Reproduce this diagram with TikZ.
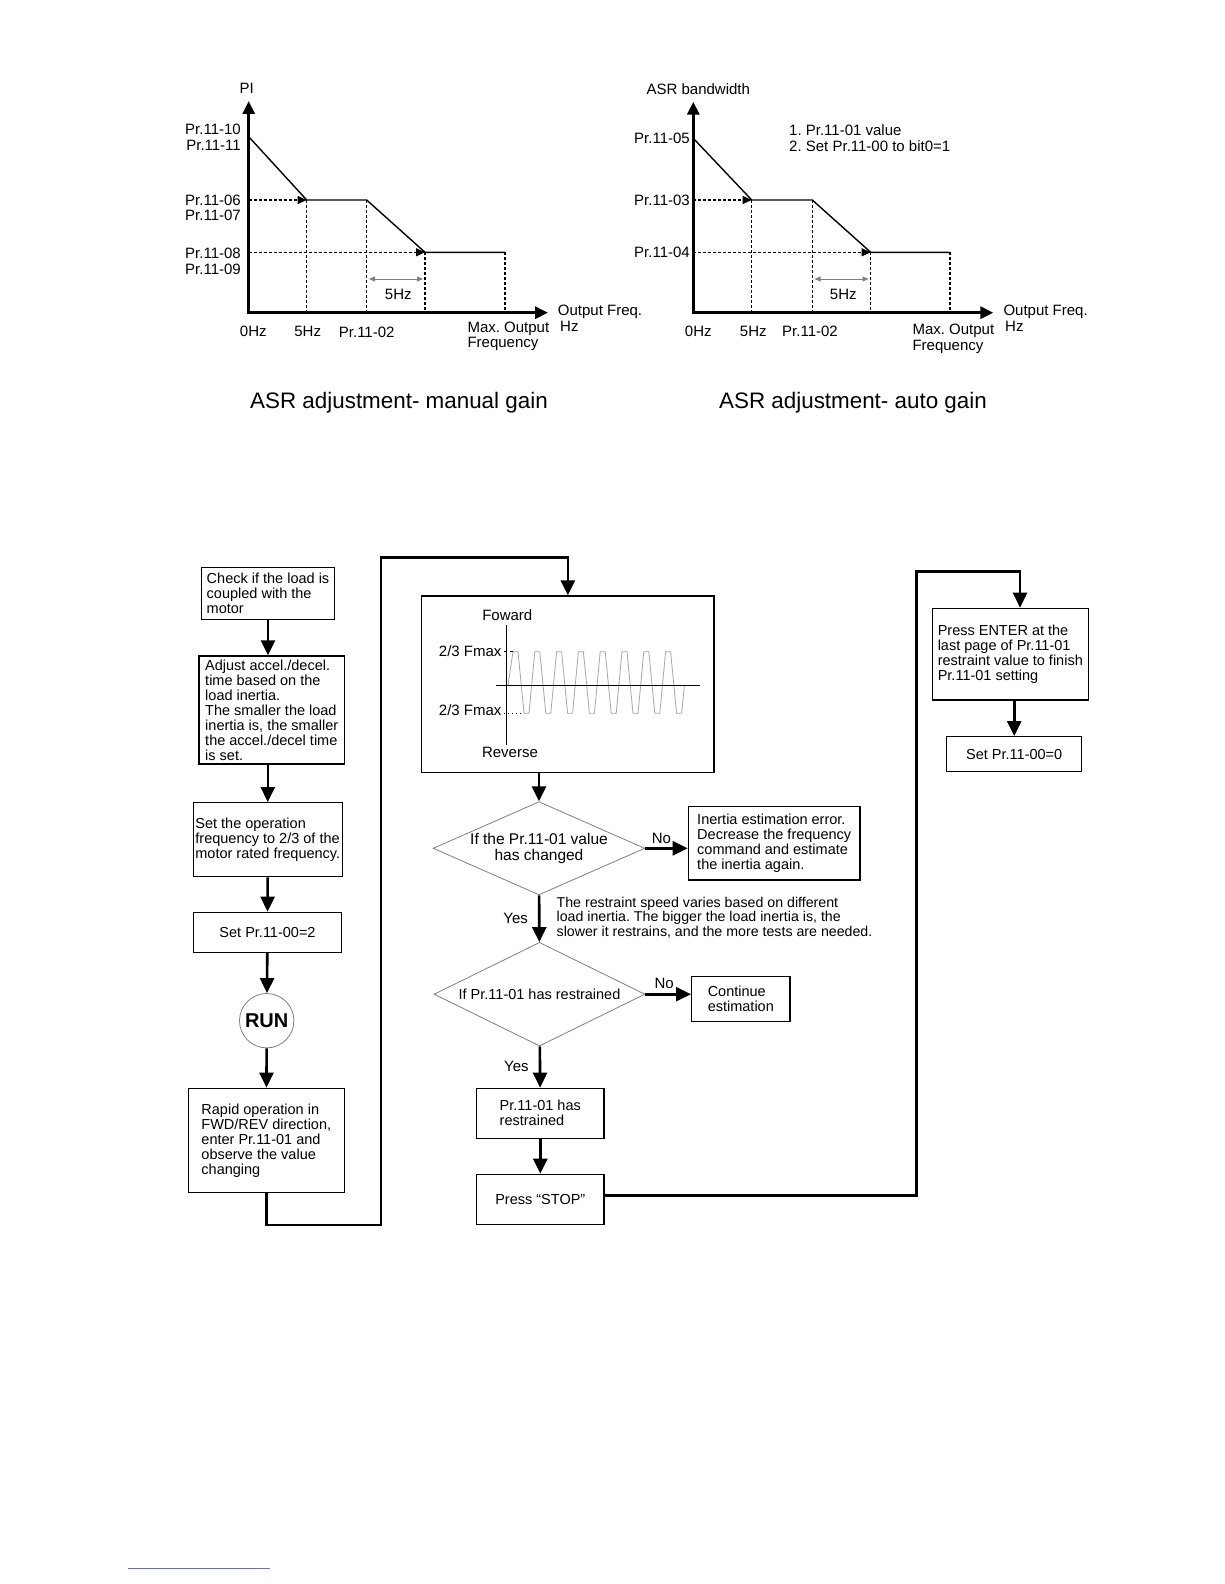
\documentclass[tikz,border=0pt]{standalone}
\usepackage{fontspec}
\setmainfont{Liberation Sans}
\usetikzlibrary{positioning,shapes.geometric,arrows.meta}
\frenchspacing

\begin{document}
\begin{tikzpicture}[x=1pt,y=-1pt,
  lbl/.style={inner sep=0pt,text height=10pt,text depth=0pt,font=\fontsize{15}{16}\selectfont},
  ttl/.style={inner sep=0pt,font=\fontsize{22.4}{24}\selectfont},
  axis/.style={line width=3pt,{Triangle[length=13pt,width=12pt]}-{Triangle[length=13pt,width=12pt]}},
  curve/.style={line width=1.4pt},
  guide/.style={line width=1.1pt,dash pattern=on 3pt off 2pt},
  guidearrow/.style={guide,-{Triangle[length=9pt,width=8pt]}},
  span/.style={gray,line width=0.9pt,{Triangle[length=6pt,width=5pt]}-{Triangle[length=6pt,width=5pt]}},
  box/.style={draw,line width=1.3pt,inner sep=0pt,align=left,font=\fontsize{14.5}{15}\selectfont},
  test/.style={draw=gray,line width=0.8pt,diamond,inner sep=0pt,align=center,font=\fontsize{14.5}{16}\selectfont},
  flow/.style={line width=2.6pt,-{Triangle[length=15pt,width=14pt]}},
  answer/.style={lbl,midway}]

  \useasboundingbox[fill=white] (0,0) rectangle (1224,1584);

  % manual gain
  \coordinate (O1) at (248.7,312.7);
  \coordinate (Y1) at (248.7,101);
  \coordinate (X1) at (548,312.7);
  \coordinate (A1) at (248.7,136.7);
  \coordinate (B1) at (306.7,200);
  \coordinate (C1) at (366.7,200);
  \coordinate (D1) at (425,252.3);
  \coordinate (E1) at (505,252.3);

  \foreach \p in {B1,C1,D1,E1} \draw[guide] (\p) -- (\p |- O1);
  \draw[guidearrow] (O1 |- B1) -- (B1);
  \draw[guidearrow] (O1 |- D1) -- (D1);
  \draw[span] (369,279) -- (423,279);
  \draw[curve] (A1) -- (B1) -- (C1) -- (D1) -- (E1);
  \draw[axis] (Y1) -- (O1) -- (X1);

  \node[lbl] (pi) at (246.7,88.3) {PI};
  \node[lbl,anchor=east] (m10) at (241,130) {Pr.11-10};
  \node[lbl,anchor=east] (m11) at (241,145.3) {Pr.11-11};
  \node[lbl,anchor=east] (m06) at (241,200) {Pr.11-06};
  \node[lbl,anchor=east] (m07) at (241,215.3) {Pr.11-07};
  \node[lbl,anchor=east] (m08) at (241,253.3) {Pr.11-08};
  \node[lbl,anchor=east] (m09) at (241,269) {Pr.11-09};
  \node[lbl] (mhz) at (398.3,294) {5Hz};
  \node[lbl] (m0) at (253.3,331.7) {0Hz};
  \node[lbl] (m5) at (307.7,331.7) {5Hz};
  \node[lbl] (m02) at (366.7,332.3) {Pr.11-02};
  \node[lbl,anchor=west] (mmax) at (467.3,327.7) {Max. Output};
  \node[lbl,anchor=west] (mfreq) at (467.3,342.7) {Frequency};
  \node[lbl,anchor=west] (mout) at (557.7,310.7) {Output Freq.};
  \node[lbl,anchor=west] (munit) at (560,326.7) {Hz};
  \node[ttl] (mtitle) at (399,403) {ASR adjustment- manual gain};

  % auto gain
  \coordinate (O2) at (693.3,312.7);
  \coordinate (Y2) at (693.3,101.7);
  \coordinate (X2) at (993.3,312.7);
  \coordinate (A2) at (693.3,138.3);
  \coordinate (B2) at (751.7,200);
  \coordinate (C2) at (812.3,200);
  \coordinate (D2) at (870.7,252.3);
  \coordinate (E2) at (950,252.3);

  \foreach \p in {B2,C2,D2,E2} \draw[guide] (\p) -- (\p |- O2);
  \draw[guidearrow] (O2 |- B2) -- (B2);
  \draw[guidearrow] (O2 |- D2) -- (D2);
  \draw[span] (814.5,279) -- (868.5,279);
  \draw[curve] (A2) -- (B2) -- (C2) -- (D2) -- (E2);
  \draw[axis] (Y2) -- (O2) -- (X2);

  \node[lbl] (bw) at (698.3,90) {ASR bandwidth};
  \node[lbl,anchor=west] (step1) at (789,130.7) {1. Pr.11-01 value};
  \node[lbl,anchor=west] (step2) at (789,146) {2. Set Pr.11-00 to bit0=1};
  \node[lbl,anchor=east] (a05) at (690,138.3) {Pr.11-05};
  \node[lbl,anchor=east] (a03) at (690,200) {Pr.11-03};
  \node[lbl,anchor=east] (a04) at (690,252.7) {Pr.11-04};
  \node[lbl] (ahz) at (843.3,294.3) {5Hz};
  \node[lbl] (a0) at (698.3,331.7) {0Hz};
  \node[lbl] (a5) at (753.3,331.7) {5Hz};
  \node[lbl] (a02) at (810,331.7) {Pr.11-02};
  \node[lbl,anchor=west] (amax) at (912.3,329.3) {Max. Output};
  \node[lbl,anchor=west] (afreq) at (912.3,345) {Frequency};
  \node[lbl,anchor=west] (aout) at (1003.3,310.7) {Output Freq.};
  \node[lbl,anchor=west] (aunit) at (1005,326.7) {Hz};
  \node[ttl] (atitle) at (853,403) {ASR adjustment- auto gain};

  % flowchart, left column
  \node[box,minimum width=132.6pt,minimum height=52pt] (check) at (268,593.3)
    {Check if the load is\\coupled with the\\motor};
  \node[box,minimum width=145.3pt,minimum height=108pt] (adjust) at (271.7,710)
    {Adjust accel./decel.\\time based on the\\load inertia.\\The smaller the load\\inertia is, the smaller\\the accel./decel time\\is set.};
  \node[box,minimum width=149pt,minimum height=74pt] (setfreq) at (267.8,839.7)
    {Set the operation\\frequency to 2/3 of the\\motor rated frequency.};
  \node[box,minimum width=148.4pt,minimum height=40pt] (setmode) at (267.5,932.3) {Set Pr.11-00=2};
  \node[circle,draw=gray,line width=0.8pt,minimum size=54.4pt,inner sep=0pt,
    font=\bfseries\fontsize{20}{20}\selectfont] (run) at (266.7,1020.7) {RUN};
  \node[box,minimum width=156pt,minimum height=104pt] (rapid) at (266.3,1140.3)
    {Rapid operation in\\FWD/REV direction,\\enter Pr.11-01 and\\observe the value\\changing};

  % flowchart, middle column
  \node[box,minimum width=292.3pt,minimum height=176.3pt] (plot) at (567.85,684.15) {};
  \draw[gray!70,line width=0.8pt] (508,685)
    \foreach \k in {0,...,7} {
      -- ({513+21.8*\k},651.7) -- ({518+21.8*\k},651.7)
      -- ({524+21.8*\k},713.3) -- ({529+21.8*\k},713.3) }
    -- (684.5,685);
  \draw[line width=0.9pt] (506.7,625) -- (506.7,745);
  \draw[line width=0.9pt] (496,685.7) -- (700,685.7);
  \draw[line width=0.6pt,dash pattern=on 3pt off 3pt] (504,651.7) -- (513,651.7);
  \draw[line width=0.6pt,dash pattern=on 1pt off 3pt] (504,713) -- (523,713);
  \node[lbl] (fwd) at (507.3,615) {Foward};
  \node[lbl] (rev) at (510,752.3) {Reverse};
  \node[lbl,anchor=east] (fmaxup) at (501.7,651) {2/3 Fmax};
  \node[lbl,anchor=east] (fmaxdn) at (501.7,710.7) {2/3 Fmax};

  \node[test,aspect=2.27,minimum width=211.7pt,minimum height=93.3pt,
    font=\fontsize{15.5}{16}\selectfont] (changed) at (539,848.3)
    {If the Pr.11-01 value\\has changed};
  \node[box,minimum width=171.7pt,minimum height=73.3pt] (err) at (774.2,843.3)
    {Inertia estimation error.\\Decrease the frequency\\command and estimate\\the inertia again.};
  \node[box,draw=none,anchor=west,font=\fontsize{14.2}{14.5}\selectfont] (hint) at (556,917.7)
    {The restraint speed varies based on different\\load inertia. The bigger the load inertia is, the\\slower it restrains, and the more tests are needed.};
  \node[test,aspect=2.03,minimum width=211pt,minimum height=103.7pt] (restrained) at (539.5,994.2)
    {If Pr.11-01 has restrained};
  \node[box,minimum width=98.3pt,minimum height=45pt] (cont) at (740.8,999.2) {Continue\\estimation};
  \node[box,minimum width=127.3pt,minimum height=50pt] (rest) at (540.3,1113.3) {Pr.11-01 has\\restrained};
  \node[box,minimum width=127.3pt,minimum height=50pt,align=center] (stop) at (540.3,1199.3) {Press “STOP”};

  % flowchart, right column
  \node[box,minimum width=156pt,minimum height=91.7pt] (enter) at (1010.3,654.2)
    {Press ENTER at the\\last page of Pr.11-01\\restraint value to finish\\Pr.11-01 setting};
  \node[box,minimum width=135pt,minimum height=35pt,align=center] (set0) at (1014.2,754.2) {Set Pr.11-00=0};

  \coordinate (j1) at (381,1225);
  \coordinate (j2) at (381,557.5);
  \coordinate (j3) at (916.7,571.7);
  \coordinate (j4) at (1020,571.7);

  \draw[flow] (check) -- (check |- adjust.north);
  \draw[flow] (adjust.south -| setfreq) -- (setfreq);
  \draw[flow] (setfreq) -- (setmode);
  \draw[flow] (setmode) -- (run);
  \draw[flow] (run) -- (rapid);
  \draw[flow] (rapid.south) |- (j1) -- (j2) -| (plot.north);
  \draw[flow] (plot.south -| changed) -- (changed);
  \draw[flow] (changed.east) -- (changed.east -| err.west)
    node[answer,above=4pt,xshift=-5pt] (no1) {No};
  \draw[flow] (changed) -- (restrained)
    node[answer,left=10pt] (yes1) {Yes};
  \draw[flow] (restrained.east) -- (restrained.east -| cont.west)
    node[answer,above=4pt,xshift=-4pt] (no2) {No};
  \draw[flow] (restrained) -- (rest)
    node[answer,left=10pt] (yes2) {Yes};
  \draw[flow] (rest) -- (stop);
  \draw[flow] ([yshift=4pt]stop.east) -| (j3) -- (j4) -- (j4 |- enter.north);
  \draw[flow] (set0 |- enter.south) -- (set0);

  \draw[blue!60,line width=0.6pt] (128,1568) -- (270,1568);

\end{tikzpicture}
\end{document}
